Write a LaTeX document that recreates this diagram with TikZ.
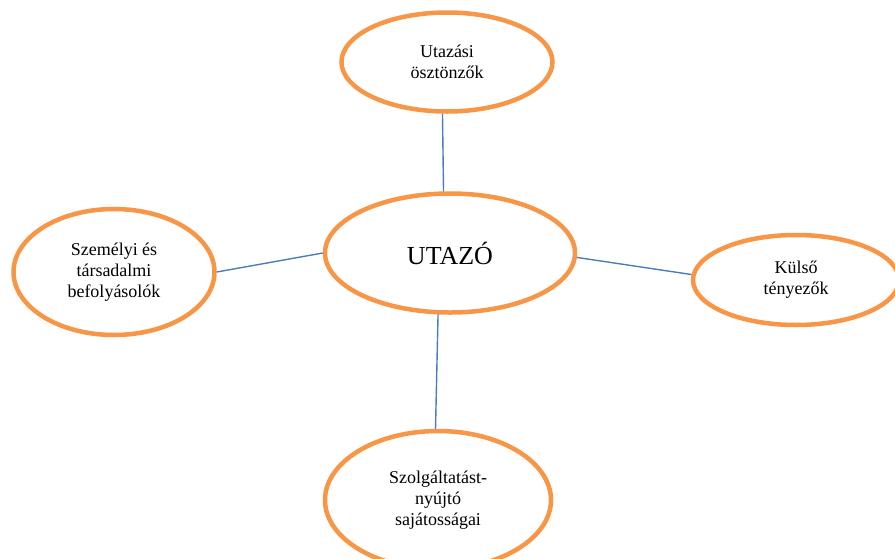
\documentclass[tikz,border=0pt]{standalone}
\usepackage{fontspec}
\setmainfont{Liberation Serif}
\usetikzlibrary{shapes.geometric}
\definecolor{bubbleorange}{HTML}{F79646}
\definecolor{linkblue}{HTML}{4A7EBB}

\begin{document}
\begin{tikzpicture}[x=1pt, y=-1pt,
    bubble/.style={ellipse, draw=bubbleorange, line width=4.5pt, fill=white,
        align=center, inner sep=0pt, font=\fontsize{18}{21}\selectfont},
    link/.style={draw=linkblue, line width=1.4pt}]
    \useasboundingbox (0,0) rectangle (895,558);
    % Draw the centre and the four factors around it
    \node[bubble, minimum width=250pt, minimum height=119pt,
        font=\fontsize{26}{30}\selectfont] (utazo) at (450,253) {UTAZÓ};
    \node[bubble, minimum width=211pt, minimum height=99pt] (osztonzok) at (447,62)
        {Utazási\\ösztönzők};
    \node[bubble, minimum width=201pt, minimum height=126pt] (befolyas) at (114,272)
        {Személyi és\\társadalmi\\befolyásolók};
    \node[bubble, minimum width=206pt, minimum height=90pt] (tenyezok) at (796,280)
        {Külső\\tényezők};
    \node[bubble, minimum width=226pt, minimum height=138pt] (szolgaltato) at (438,500)
        {Szolgáltatást-\\nyújtó\\sajátosságai};
    % Draw the links, from border to border
    \draw[link] (osztonzok.-95) -- (utazo.96);
    \draw[link] (befolyas.east) -- (utazo.west);
    \draw[link] (utazo.-2) -- (tenyezok.177);
    \draw[link] (utazo.-101) -- (szolgaltato.92);
\end{tikzpicture}
\end{document}
